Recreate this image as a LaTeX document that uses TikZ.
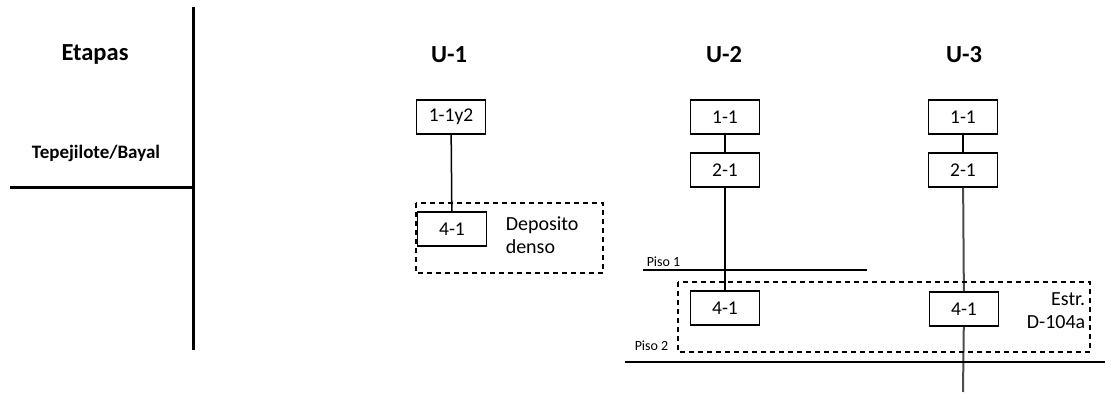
\documentclass[tikz,border=0pt]{standalone}
\usepackage{fontspec}
\setmainfont{Carlito}
\usetikzlibrary{positioning}

\begin{document}
\begin{tikzpicture}[x=1pt, y=-1pt, line width=1.5pt,
  caja/.style={draw, minimum width=69pt, minimum height=34pt, inner sep=0pt,
    font=\fontsize{19.5}{23}\selectfont},
  titulo/.style={font=\bfseries\fontsize{24.5}{28}\selectfont},
  piso/.style={font=\fontsize{14}{16}\selectfont, inner sep=1pt},
  nota/.style={font=\fontsize{20}{23}\selectfont, align=left, inner sep=0pt},
  discont/.style={dash pattern=on 5pt off 4pt},
  eje/.style={line width=3pt}]
  \useasboundingbox (0,0) rectangle (1112,395);

  % --- Etapas ---
  \node[titulo] (etapas) at (95,54) {Etapas};
  \node[font=\bfseries\fontsize{19}{22}\selectfont] (tepe) at (96,153) {Tepejilote/Bayal};
  \coordinate (ejeA) at (193,7);
  \coordinate (ejeB) at (193,350);
  \coordinate (ejeC) at (10,188);
  \draw[eje] (ejeA) -- (ejeB);
  \draw[eje] (ejeC) -- (ejeA |- ejeC);

  % --- Titulos ---
  \node[titulo] (tu1) at (449,55) {U-1};
  \node[titulo] (tu2) at (724,55) {U-2};
  \node[titulo] (tu3) at (964,55) {U-3};

  % --- U-1 ---
  \node[caja] (u1a) at (451,117) {1-1y2};
  \node[caja] (u1b) at (452,229) {4-1};
  \draw (u1a) -- (u1b);
  \draw[discont] (416,203) rectangle (603,273);
  \node[nota, anchor=west] (denso) at (505,235) {Deposito\\denso};

  % --- U-2 ---
  \node[caja] (u2a) at (725,117) {1-1};
  \node[caja] (u2b) at (725,170) {2-1};
  \node[caja] (u2c) at (725,308) {4-1};
  \draw (u2a) -- (u2b);
  \draw (u2b) -- (u2c);

  % --- U-3 ---
  \node[caja] (u3a) at (963,117) {1-1};
  \node[caja] (u3b) at (963,170) {2-1};
  \node[caja] (u3c) at (964,309) {4-1};
  \coordinate (u3fin) at (963,392);
  \draw (u3a) -- (u3b);
  \draw[black!70, line width=2pt] (u3b) -- (u3c);
  \draw[black!70, line width=2pt] (u3c) -- (u3fin);

  % --- Estructura D-104a ---
  \draw[discont] (678,282) rectangle (1090,352);
  \node[nota, align=right, anchor=east] (estr) at (1086,311) {Estr.\\D-104a};

  % --- Pisos ---
  \coordinate (p1a) at (643,270);
  \coordinate (p1b) at (867,270);
  \draw (p1a) -- (p1b);
  \node[piso, anchor=south west] (piso1) at (645,268) {Piso 1};
  \coordinate (p2a) at (625,362);
  \coordinate (p2b) at (1105,362);
  \draw (p2a) -- (p2b);
  \node[piso, anchor=south west] (piso2) at (633,352) {Piso 2};
\end{tikzpicture}
\end{document}
